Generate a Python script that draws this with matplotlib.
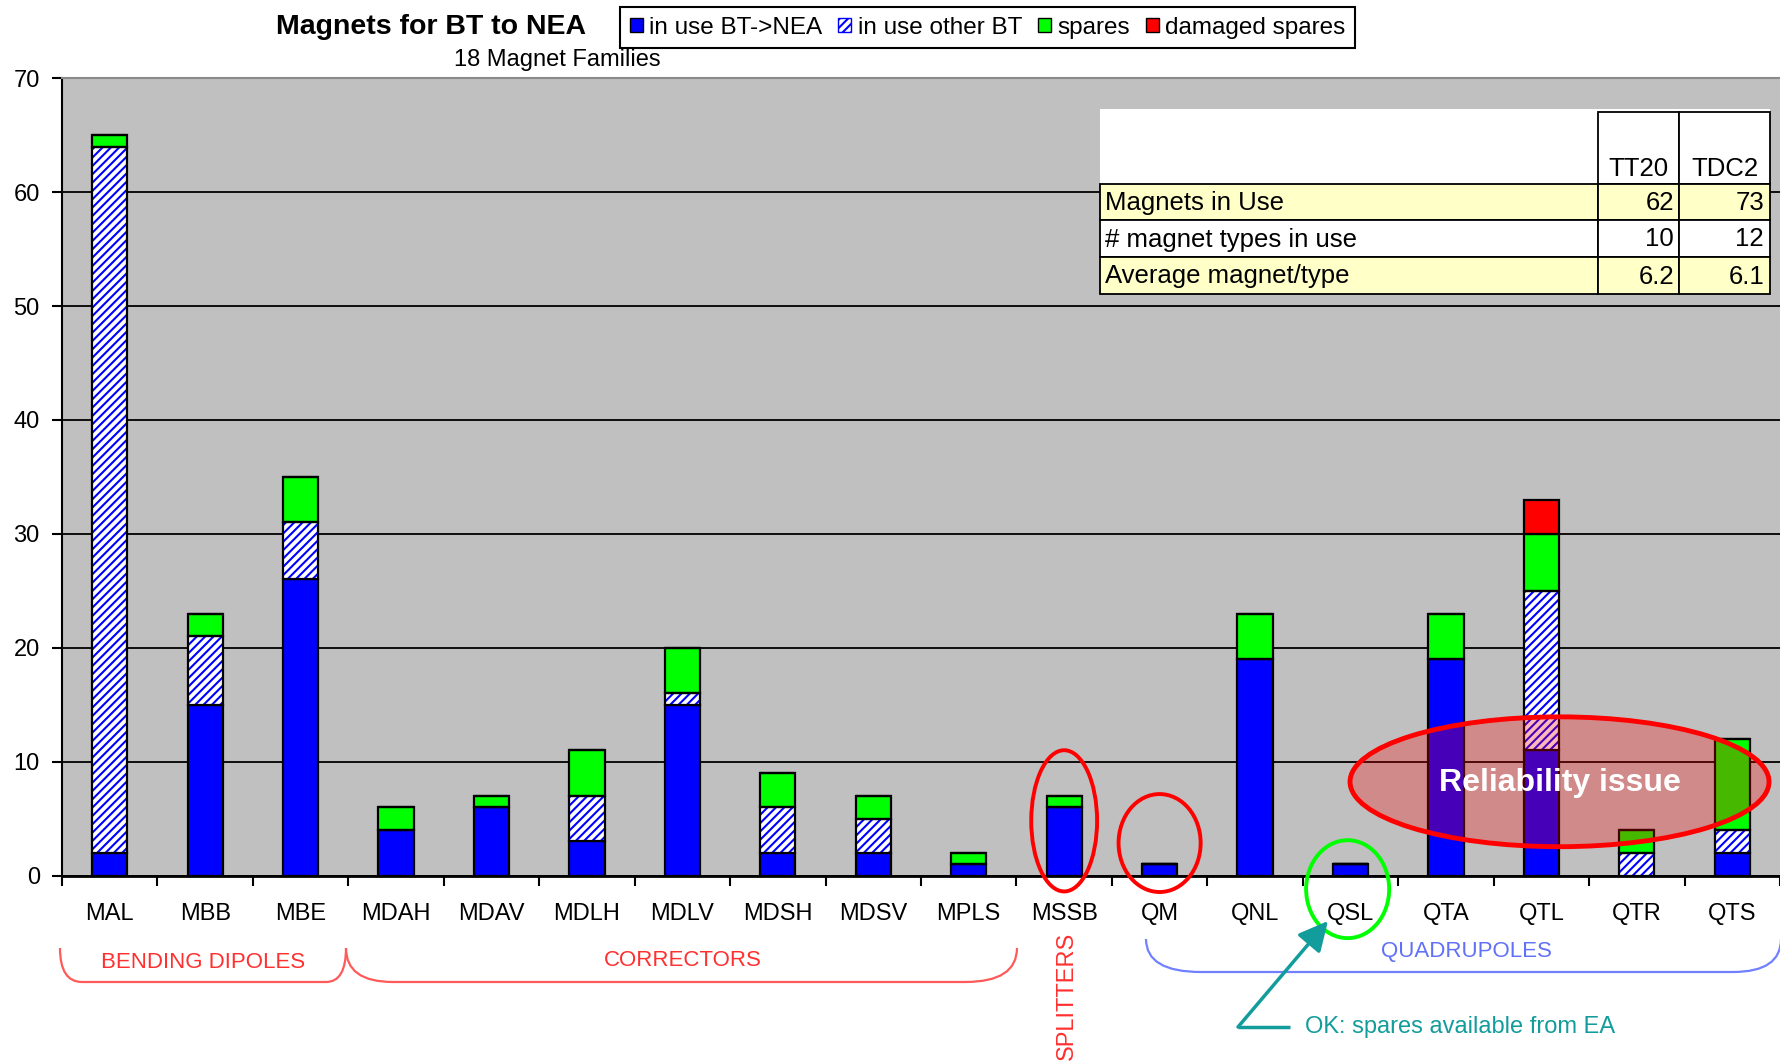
import matplotlib
matplotlib.use('Agg')
import matplotlib.pyplot as plt
from matplotlib.patches import Patch, Ellipse, Rectangle, PathPatch
from matplotlib.path import Path
import numpy as np

# ---------------- data ----------------
cats = ['MAL', 'MBB', 'MBE', 'MDAH', 'MDAV', 'MDLH', 'MDLV', 'MDSH', 'MDSV',
        'MPLS', 'MSSB', 'QM', 'QNL', 'QSL', 'QTA', 'QTL', 'QTR', 'QTS']
in_use_nea   = [2, 15, 26, 4, 6, 3, 15, 2, 2, 1, 6, 1, 19, 1, 19, 11, 0, 2]
in_use_other = [62, 6, 5, 0, 0, 4, 1, 4, 3, 0, 0, 0, 0, 0, 0, 14, 2, 2]
spares       = [1, 2, 4, 2, 1, 4, 4, 3, 2, 1, 1, 0, 4, 0, 4, 5, 2, 8]
damaged      = [0, 0, 0, 0, 0, 0, 0, 0, 0, 0, 0, 0, 0, 0, 0, 3, 0, 0]
series_labels = ['in use BT->NEA', 'in use other BT', 'spares', 'damaged spares']
yticks = [0, 10, 20, 30, 40, 50, 60, 70]

table_cols = ['TT20', 'TDC2']
table_rows = ['Magnets in Use', '# magnet types in use', 'Average magnet/type']
table_tt20 = ['62', '10', '6.2']
table_tdc2 = ['73', '12', '6.1']

# ---------------- style ----------------
plt.rcParams['font.family'] = ['Liberation Sans', 'DejaVu Sans']
plt.rcParams['hatch.linewidth'] = 1.5

BLUE = '#0000FF'
GREEN = '#00FF00'
RED = '#FF0000'
TEAL = '#129C9C'

W, H = 1780, 1064
fig = plt.figure(figsize=(W / 100, H / 100), dpi=100)
fig.patch.set_facecolor('white')

x0, y_top, y_bot = 62, 78.3, 875.5
ax = fig.add_axes([x0 / W, 1 - y_bot / H, 1 - x0 / W, (y_bot - y_top) / H])
ax.set_facecolor('#C0C0C0')

x = np.arange(len(cats))
bw = 0.37
lw_bar = 1.6
b = np.zeros(len(cats))
ax.bar(x, in_use_nea, bw, bottom=b, color=BLUE, edgecolor='black', lw=lw_bar, zorder=2)
b = b + np.array(in_use_nea)
ax.bar(x, in_use_other, bw, bottom=b, color='white', edgecolor=BLUE, lw=0, hatch='////', zorder=2)
ax.bar(x, in_use_other, bw, bottom=b, fill=False, edgecolor='black', lw=lw_bar, zorder=2.1)
b = b + np.array(in_use_other)
ax.bar(x, spares, bw, bottom=b, color=GREEN, edgecolor='black', lw=lw_bar, zorder=2)
b = b + np.array(spares)
ax.bar(x, damaged, bw, bottom=b, color=RED, edgecolor='black', lw=lw_bar, zorder=2)

ax.set_xlim(-0.5, len(cats) - 0.5)
ax.set_ylim(0, 70)
ax.set_yticks(yticks)
ax.tick_params(axis='y', labelsize=17, length=7, width=1.5, pad=9, color='black')
ax.set_xticks(x)
ax.set_xticklabels(cats)
ax.tick_params(axis='x', which='major', length=0, pad=20, labelsize=17)
ax.set_xticks(np.arange(-0.5, len(cats), 1), minor=True)
ax.tick_params(axis='x', which='minor', length=7, width=1.5, color='black')
ax.yaxis.grid(True, color='black', lw=1.3)
ax.set_axisbelow(True)
ax.spines['right'].set_visible(False)
ax.spines['left'].set_color('black')
ax.spines['left'].set_linewidth(1.5)
ax.spines['bottom'].set_color('black')
ax.spines['bottom'].set_linewidth(2)
ax.spines['top'].set_color('#8a8a8a')
ax.spines['top'].set_linewidth(1.5)

# circles/ellipses attached to categories
ax.add_patch(Ellipse((10.0, 4.8), 0.69, 12.4, fill=False, edgecolor=RED, lw=2.8,
                     clip_on=False, zorder=4))
ax.add_patch(Ellipse((11.0, 2.85), 0.86, 8.6, fill=False, edgecolor=RED, lw=2.8,
                     clip_on=False, zorder=4))
ax.add_patch(Ellipse((12.97, -1.2), 0.87, 8.6, fill=False, edgecolor=GREEN, lw=2.8,
                     clip_on=False, zorder=4))
ax.add_patch(Ellipse((15.19, 8.23), 4.39, 11.4, facecolor=(1, 0, 0, 0.28),
                     edgecolor=RED, lw=3.5, zorder=4))
ax.text(15.19, 8.1, 'Reliability issue', color='white', fontsize=23, fontweight='bold',
        ha='center', va='center', zorder=5)

# ---------------- title & legend ----------------
fig.text(431 / W, 1 - 27 / H, 'Magnets for BT to NEA', fontsize=20.5, fontweight='bold',
         ha='center', va='center')
fig.text(557 / W, 1 - 60 / H, '18 Magnet Families', fontsize=17, ha='center', va='center')

handles = [Patch(facecolor=BLUE, edgecolor='black', lw=1),
           Patch(facecolor='white', edgecolor=BLUE, hatch='////', lw=1),
           Patch(facecolor=GREEN, edgecolor='black', lw=1),
           Patch(facecolor=RED, edgecolor='black', lw=1)]
leg = fig.legend(handles, series_labels, loc='upper left', bbox_to_anchor=(620 / W, 1 - 7 / H),
                 borderaxespad=0, ncol=4, fontsize=17.5, frameon=True, fancybox=False,
                 edgecolor='black', framealpha=1, handlelength=0.55, handleheight=0.55,
                 handletextpad=0.25, columnspacing=0.65, borderpad=0.4)
leg.get_frame().set_linewidth(1.5)

# ---------------- overlay (pixel coordinates) ----------------
ov = fig.add_axes([0, 0, 1, 1])
ov.set_xlim(0, W)
ov.set_ylim(H, 0)
ov.axis('off')
ov.patch.set_alpha(0)

# table
cx = [1100, 1598, 1679, 1770]
ry = [184, 220, 257, 294]
YEL = '#FFFFC8'
ov.add_patch(Rectangle((cx[0], 109), cx[3] - cx[0], ry[0] - 109, facecolor='white',
                       edgecolor='none', zorder=3))
for j, lab in enumerate(table_cols):
    ov.add_patch(Rectangle((cx[j + 1], 112), cx[j + 2] - cx[j + 1], ry[0] - 112,
                           facecolor='white', edgecolor='black', lw=1.3, zorder=3.1))
    ov.text((cx[j + 1] + cx[j + 2]) / 2, ry[0] - 3, lab, fontsize=18.5, ha='center',
            va='bottom', zorder=4)
row_tops = [ry[0], ry[1], ry[2]]
row_bots = [ry[1], ry[2], ry[3]]
for i, lab in enumerate(table_rows):
    fc = YEL if i % 2 == 0 else 'white'
    top, bot = row_tops[i], row_bots[i]
    for j in range(3):
        ov.add_patch(Rectangle((cx[j], top), cx[j + 1] - cx[j], bot - top, facecolor=fc,
                               edgecolor='black', lw=1.3, zorder=3.1))
    ymid = (top + bot) / 2 + 1
    ov.text(cx[0] + 5, ymid, lab, fontsize=18.5, ha='left', va='center', zorder=4)
    ov.text(cx[2] - 5, ymid, table_tt20[i], fontsize=18.5, ha='right', va='center', zorder=4)
    ov.text(cx[3] - 6, ymid, table_tdc2[i], fontsize=18.5, ha='right', va='center', zorder=4)


def brace(xl, xr, ytop, ybot, rl, rr, color):
    verts = [(xl, ytop), (xl, ybot), (xl + rl, ybot), (xr - rr, ybot), (xr, ybot), (xr, ytop)]
    codes = [Path.MOVETO, Path.CURVE3, Path.CURVE3, Path.LINETO, Path.CURVE3, Path.CURVE3]
    ov.add_patch(PathPatch(Path(verts, codes), fill=False, edgecolor=color, lw=1.6,
                           clip_on=False))


RED_T = '#FF3030'
BLUE_T = '#6070F8'
brace(60, 346, 948, 982, 22, 20, '#FF5A5A')
brace(346, 1017, 948, 982, 47, 52, '#FF5A5A')
brace(1146, 1781, 939, 972, 55, 48, '#7080FF')
ov.text(203, 962, 'BENDING DIPOLES', color=RED_T, fontsize=16, ha='center', va='center')
ov.text(683, 960, 'CORRECTORS', color=RED_T, fontsize=16, ha='center', va='center')
ov.text(1067, 996, 'SPLITTERS', color=RED_T, fontsize=17, ha='center', va='center',
        rotation=90)
ov.text(1466, 951, 'QUADRUPOLES', color=BLUE_T, fontsize=16, ha='center', va='center')

# teal arrow + note
ov.plot([1238, 1290], [1027, 1027], color=TEAL, lw=2.5, solid_capstyle='butt')
ov.annotate('', xy=(1328, 921), xytext=(1238, 1027),
            arrowprops=dict(arrowstyle='-|>,head_length=0.9,head_width=0.45', color=TEAL,
                            lw=2.5, mutation_scale=20, shrinkA=0, shrinkB=0))
ov.text(1305, 1027, 'OK: spares available from EA', color=TEAL, fontsize=17, ha='left',
        va='center')

fig.savefig('out.png', dpi=100, facecolor='white')
